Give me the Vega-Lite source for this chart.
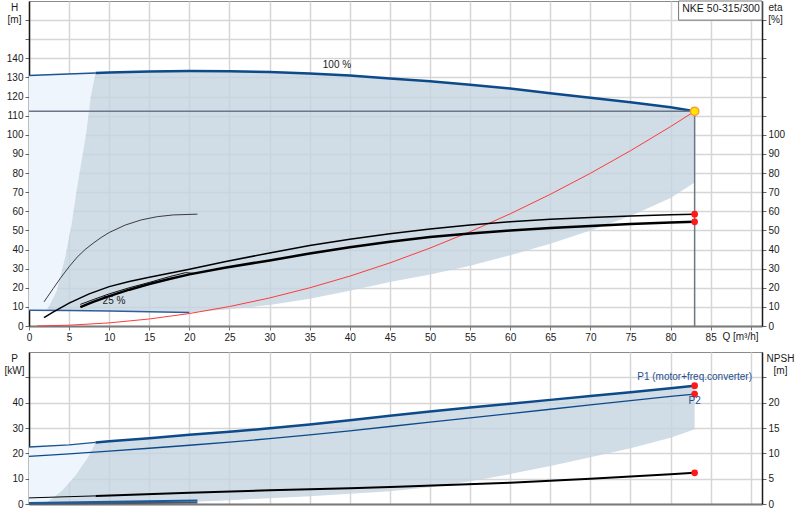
{
  "$schema": "https://vega.github.io/schema/vega-lite/v6.json",
  "background": "white",
  "padding": {"left": 3, "top": 0, "right": 0, "bottom": 0},
  "bounds": "flush",
  "spacing": 26,
  "config": {
    "font": "Liberation Sans",
    "view": {"stroke": "#8a8a8a", "strokeWidth": 1},
    "axis": {
      "labelFont": "Liberation Sans", "labelFontSize": 10, "labelColor": "#1a1a1a",
      "titleFont": "Liberation Sans", "titleFontSize": 10, "titleFontWeight": "normal", "titleColor": "#1a1a1a",
      "gridColor": "#d6d6d6", "gridWidth": 1.5, "tickColor": "#666666", "tickSize": 4,
      "domainColor": "#1a1a1a", "domainWidth": 1.5, "labelPadding": 2, "labelFlush": false, "labelOverlap": false
    }
  },
  "datasets": {
    "top100a": [{"q": 0, "h": 131}, {"q": 4, "h": 131.7}, {"q": 8.3, "h": 132.3}],
    "top100b": [
      {"q": 8.3, "h": 132.3}, {"q": 10, "h": 132.6}, {"q": 15, "h": 133.1}, {"q": 20, "h": 133.4},
      {"q": 25, "h": 133.3}, {"q": 30, "h": 132.9}, {"q": 35, "h": 132.1}, {"q": 40, "h": 131},
      {"q": 45, "h": 129.5}, {"q": 50, "h": 128}, {"q": 55, "h": 126.2}, {"q": 60, "h": 124.2},
      {"q": 65, "h": 121.8}, {"q": 70, "h": 119.4}, {"q": 75, "h": 117}, {"q": 80, "h": 114.4},
      {"q": 83, "h": 112.3}
    ],
    "lightTop": [
      {"q": 0, "h": 131, "h2": 8.3}, {"q": 2.2, "h": 131.6, "h2": 8.25}, {"q": 2.7, "h": 131.65, "h2": 12},
      {"q": 3.45, "h": 131.7, "h2": 18.3}, {"q": 4.5, "h": 131.75, "h2": 35.8}, {"q": 5.3, "h": 131.85, "h2": 53},
      {"q": 5.9, "h": 131.95, "h2": 70}, {"q": 6.5, "h": 132.05, "h2": 85}, {"q": 7.1, "h": 132.1, "h2": 100},
      {"q": 7.7, "h": 132.2, "h2": 120}, {"q": 8.3, "h": 132.3, "h2": 132.3}
    ],
    "darkTop": [
      {"q": 2.2, "h": 8.25, "h2": 8.25}, {"q": 2.7, "h": 12, "h2": 8.2}, {"q": 3.45, "h": 18.3, "h2": 8.2},
      {"q": 4.5, "h": 35.8, "h2": 8.1}, {"q": 5.3, "h": 53, "h2": 8.1}, {"q": 5.9, "h": 70, "h2": 8.1},
      {"q": 6.5, "h": 85, "h2": 8.0}, {"q": 7.1, "h": 100, "h2": 8.0}, {"q": 7.7, "h": 120, "h2": 8.0},
      {"q": 8.3, "h": 132.3, "h2": 7.9}, {"q": 10, "h": 132.6, "h2": 7.8}, {"q": 15, "h": 133.1, "h2": 7.4},
      {"q": 20, "h": 133.4, "h2": 7.0}, {"q": 25, "h": 133.3, "h2": 8.8}, {"q": 30, "h": 132.9, "h2": 11},
      {"q": 35, "h": 132.1, "h2": 14.3}, {"q": 40, "h": 131, "h2": 18.5}, {"q": 45, "h": 129.5, "h2": 23},
      {"q": 50, "h": 128, "h2": 27}, {"q": 55, "h": 126.2, "h2": 31.5}, {"q": 60, "h": 124.2, "h2": 37},
      {"q": 65, "h": 121.8, "h2": 43}, {"q": 70, "h": 119.4, "h2": 50}, {"q": 75, "h": 117, "h2": 57.5},
      {"q": 80, "h": 114.4, "h2": 67}, {"q": 83, "h": 112.3, "h2": 75}
    ],
    "line25": [{"q": 0, "h": 8.3}, {"q": 5, "h": 8.1}, {"q": 10, "h": 7.8}, {"q": 15, "h": 7.4}, {"q": 20, "h": 7.0}],
    "duty": [{"q": 0, "q2": 83, "h": 112.3, "h2": 112.3}, {"q": 83, "q2": 83, "h": 0, "h2": 112.3}],
    "system": [
      {"q": 1, "h": 0.02}, {"q": 5, "h": 0.41}, {"q": 10, "h": 1.63}, {"q": 15, "h": 3.67}, {"q": 20, "h": 6.52},
      {"q": 25, "h": 10.19}, {"q": 30, "h": 14.67}, {"q": 35, "h": 19.97}, {"q": 40, "h": 26.08},
      {"q": 45, "h": 33.01}, {"q": 50, "h": 40.75}, {"q": 55, "h": 49.31}, {"q": 60, "h": 58.68},
      {"q": 65, "h": 68.87}, {"q": 70, "h": 79.87}, {"q": 75, "h": 91.69}, {"q": 80, "h": 104.3}, {"q": 83, "h": 112.3}
    ],
    "labelsTop": [{"q": 38.4, "h": 136.6, "label": "100 %"}, {"q": 10.6, "h": 13.3, "label": "25 %"}],
    "box": [{"q": 81, "q2": 91.4, "h": 160, "h2": 170}],
    "boxText": [{"q": 86.3, "h": 166, "label": "NKE 50-315/300"}],
    "dutyPoint": [{"q": 83, "h": 112.3}],
    "etaU": [
      {"q": 1.87, "eta": 4.4}, {"q": 3, "eta": 7.3}, {"q": 5, "eta": 12}, {"q": 7.5, "eta": 16.8},
      {"q": 10, "eta": 20.6}, {"q": 12.5, "eta": 23.3}, {"q": 15, "eta": 25.5}, {"q": 17.5, "eta": 27.6},
      {"q": 20, "eta": 29.7}, {"q": 24.4, "eta": 33.6}, {"q": 30, "eta": 38.2}, {"q": 35, "eta": 42.1},
      {"q": 40, "eta": 45.4}, {"q": 45, "eta": 48.3}, {"q": 50, "eta": 50.7}, {"q": 55, "eta": 52.8},
      {"q": 60, "eta": 54.5}, {"q": 65, "eta": 55.8}, {"q": 70, "eta": 56.8}, {"q": 75, "eta": 57.6},
      {"q": 80, "eta": 58.2}, {"q": 83, "eta": 58.5}
    ],
    "etaL": [
      {"q": 6.4, "eta": 9.9}, {"q": 8, "eta": 12.6}, {"q": 10, "eta": 15.6}, {"q": 12.5, "eta": 19},
      {"q": 15, "eta": 22}, {"q": 17.5, "eta": 24.6}, {"q": 20, "eta": 27}, {"q": 24.4, "eta": 30.5},
      {"q": 30, "eta": 34.3}, {"q": 35, "eta": 37.9}, {"q": 40, "eta": 41.2}, {"q": 45, "eta": 44.1},
      {"q": 50, "eta": 46.5}, {"q": 55, "eta": 48.4}, {"q": 60, "eta": 49.9}, {"q": 65, "eta": 51.2},
      {"q": 70, "eta": 52.3}, {"q": 75, "eta": 53.3}, {"q": 80, "eta": 54.1}, {"q": 83, "eta": 54.5}
    ],
    "etaS": [
      {"q": 6.4, "eta": 11.3}, {"q": 8, "eta": 13.8}, {"q": 10, "eta": 16.8}, {"q": 12.5, "eta": 20},
      {"q": 15, "eta": 22.8}, {"q": 17.5, "eta": 25.8}, {"q": 19.5, "eta": 27.9}, {"q": 21, "eta": 27.4}
    ],
    "etaT": [
      {"q": 1.87, "eta": 12.6}, {"q": 3, "eta": 19.5}, {"q": 4, "eta": 25.5}, {"q": 5, "eta": 31},
      {"q": 6, "eta": 36}, {"q": 7, "eta": 40}, {"q": 8, "eta": 43.3}, {"q": 9, "eta": 46.3},
      {"q": 10, "eta": 48.9}, {"q": 12, "eta": 52.8}, {"q": 14, "eta": 55.5}, {"q": 16, "eta": 57.2},
      {"q": 18, "eta": 58.1}, {"q": 21, "eta": 58.5}
    ],
    "etaDots": [{"q": 83, "eta": 58.5}, {"q": 83, "eta": 54.5}],
    "lightBot": [
      {"q": 0, "p": 22.5, "p2": 0.3}, {"q": 2.0, "p": 22.8, "p2": 0.3}, {"q": 2.5, "p": 22.9, "p2": 1.3},
      {"q": 3.2, "p": 23.0, "p2": 3}, {"q": 4.1, "p": 23.2, "p2": 5.2}, {"q": 5, "p": 23.3, "p2": 8.3},
      {"q": 5.9, "p": 23.6, "p2": 11.7}, {"q": 6.6, "p": 23.8, "p2": 15}, {"q": 7.3, "p": 24.0, "p2": 18.2},
      {"q": 7.8, "p": 24.15, "p2": 21}, {"q": 8.3, "p": 24.3, "p2": 24.3}
    ],
    "darkBot": [
      {"q": 2.0, "p": 0.3, "p2": 0.3}, {"q": 2.5, "p": 1.3, "p2": 0.3}, {"q": 3.2, "p": 3, "p2": 0.3},
      {"q": 4.1, "p": 5.2, "p2": 0.3}, {"q": 5, "p": 8.3, "p2": 0.3}, {"q": 5.9, "p": 11.7, "p2": 0.3},
      {"q": 6.6, "p": 15, "p2": 0.3}, {"q": 7.3, "p": 18.2, "p2": 0.3}, {"q": 7.8, "p": 21, "p2": 0.3},
      {"q": 8.3, "p": 24.3, "p2": 0.3}, {"q": 10, "p": 24.8, "p2": 0.3}, {"q": 15, "p": 26, "p2": 0.4},
      {"q": 20, "p": 27.3, "p2": 0.8}, {"q": 25, "p": 28.5, "p2": 1.5}, {"q": 30, "p": 29.9, "p2": 2.3},
      {"q": 35, "p": 31.4, "p2": 3.1}, {"q": 40, "p": 33.1, "p2": 4}, {"q": 45, "p": 34.8, "p2": 5},
      {"q": 50, "p": 36.5, "p2": 6.6}, {"q": 55, "p": 38.1, "p2": 9}, {"q": 60, "p": 39.6, "p2": 11.8},
      {"q": 65, "p": 41.1, "p2": 15}, {"q": 70, "p": 42.6, "p2": 18.5}, {"q": 75, "p": 44.1, "p2": 22},
      {"q": 80, "p": 45.7, "p2": 26.2}, {"q": 83, "p": 46.7, "p2": 29.5}
    ],
    "p1a": [{"q": 0, "p": 22.5}, {"q": 5, "p": 23.3}, {"q": 8.3, "p": 24.3}],
    "p1b": [
      {"q": 8.3, "p": 24.3}, {"q": 10, "p": 24.8}, {"q": 15, "p": 26}, {"q": 20, "p": 27.3}, {"q": 25, "p": 28.5},
      {"q": 30, "p": 29.9}, {"q": 35, "p": 31.4}, {"q": 40, "p": 33.1}, {"q": 45, "p": 34.8}, {"q": 50, "p": 36.5},
      {"q": 55, "p": 38.1}, {"q": 60, "p": 39.6}, {"q": 65, "p": 41.1}, {"q": 70, "p": 42.6}, {"q": 75, "p": 44.1},
      {"q": 80, "p": 45.7}, {"q": 83, "p": 46.7}
    ],
    "p2": [
      {"q": 0, "p": 18.8}, {"q": 5, "p": 19.8}, {"q": 10, "p": 20.9}, {"q": 15, "p": 22}, {"q": 20, "p": 23.2},
      {"q": 25, "p": 24.4}, {"q": 30, "p": 25.8}, {"q": 35, "p": 27.3}, {"q": 40, "p": 28.9}, {"q": 45, "p": 30.6},
      {"q": 50, "p": 32.3}, {"q": 55, "p": 34}, {"q": 60, "p": 35.7}, {"q": 65, "p": 37.4}, {"q": 70, "p": 39.1},
      {"q": 75, "p": 40.8}, {"q": 80, "p": 42.5}, {"q": 83, "p": 43.4}
    ],
    "p25blue": [{"q": 0, "p": 0.35}, {"q": 21, "p": 1.4}],
    "p25gray": [{"q": 0, "p": 0.1}, {"q": 21, "p": 0.6}],
    "pDots": [{"q": 83, "p": 46.7}, {"q": 83, "p": 43.4}],
    "pLabels": [{"q": 83, "p": 50.2, "label": "P1 (motor+freq.converter)"}, {"q": 83, "p": 40.6, "label": "P2"}],
    "npshA": [{"q": 0, "n": 1.2}, {"q": 4, "n": 1.4}, {"q": 8.3, "n": 1.6}],
    "npshB": [
      {"q": 8.3, "n": 1.6}, {"q": 20, "n": 2.2}, {"q": 30, "n": 2.7}, {"q": 40, "n": 3.1}, {"q": 46, "n": 3.4},
      {"q": 60, "n": 4.2}, {"q": 70, "n": 5}, {"q": 80, "n": 5.85}, {"q": 83, "n": 6.15}
    ],
    "npshDot": [{"q": 83, "n": 6.15}]
  },
  "vconcat": [
    {
      "width": 733,
      "height": 325,
      "encoding": {
        "x": {
          "field": "q", "type": "quantitative",
          "scale": {"domain": [0, 91.4], "nice": false, "zero": false},
          "axis": {
            "values": [0, 5, 10, 15, 20, 25, 30, 35, 40, 45, 50, 55, 60, 65, 70, 75, 80, 85, 90],
            "labelExpr": "datum.value > 85 ? '' : datum.label",
            "grid": true, "domainColor": "#7a7a7a", "domainWidth": 2, "tickColor": "#7a7a7a",
            "title": "Q [m³/h]", "titleX": 711, "titleY": 10, "titleBaseline": "middle", "titleAlign": "center"
          }
        }
      },
      "layer": [
        {
          "encoding": {
            "y": {
              "field": "h", "type": "quantitative",
              "scale": {"domain": [0, 170], "nice": false, "zero": false},
              "axis": {
                "orient": "left", "grid": true,
                "values": [0, 10, 20, 30, 40, 50, 60, 70, 80, 90, 100, 110, 120, 130, 140, 150, 160],
                "labelExpr": "datum.value > 140 ? '' : datum.label",
                "title": ["H", "[m]"], "titleAngle": 0, "titleAlign": "center", "titleBaseline": "top",
                "titleX": -15, "titleY": 1, "titleLineHeight": 12
              }
            }
          },
          "layer": [
            {"data": {"name": "lightTop"}, "mark": {"type": "area", "color": "#eef5fc"}, "encoding": {"y2": {"field": "h2"}}},
            {"data": {"name": "darkTop"}, "mark": {"type": "area", "color": "#c4d3e0", "opacity": 0.8}, "encoding": {"y2": {"field": "h2"}}},
            {"data": {"name": "line25"}, "mark": {"type": "line", "color": "#2f5f98", "strokeWidth": 1.5}, "encoding": {}},
            {"data": {"name": "top100a"}, "mark": {"type": "line", "color": "#1d558f", "strokeWidth": 1.5}, "encoding": {}},
            {"data": {"name": "top100b"}, "mark": {"type": "line", "color": "#0d4a8a", "strokeWidth": 2.5}, "encoding": {}},
            {"data": {"name": "duty"}, "mark": {"type": "rule", "color": "#6b7786", "strokeWidth": 1.5}, "encoding": {"x2": {"field": "q2"}, "y2": {"field": "h2"}}},
            {"data": {"name": "system"}, "mark": {"type": "line", "color": "#ff3b3b", "strokeWidth": 1}, "encoding": {}},
            {"data": {"name": "labelsTop"}, "mark": {"type": "text", "fontSize": 10, "color": "#1a1a1a", "baseline": "middle"}, "encoding": {"text": {"field": "label"}}},
            {"data": {"name": "box"}, "mark": {"type": "rect", "fill": "white", "stroke": "#777777", "strokeWidth": 1}, "encoding": {"x2": {"field": "q2"}, "y2": {"field": "h2"}}},
            {"data": {"name": "boxText"}, "mark": {"type": "text", "fontSize": 10.5, "color": "#1a1a1a", "baseline": "middle"}, "encoding": {"text": {"field": "label"}}}
          ]
        },
        {
          "encoding": {
            "y": {
              "field": "eta", "type": "quantitative",
              "scale": {"domain": [0, 170], "nice": false, "zero": false},
              "axis": {
                "orient": "right", "grid": false,
                "values": [0, 10, 20, 30, 40, 50, 60, 70, 80, 90, 100, 110, 120, 130, 140, 150, 160],
                "labelExpr": "datum.value > 100 ? '' : datum.label",
                "title": ["eta", "[%]"], "titleAngle": 0, "titleAlign": "center", "titleBaseline": "top",
                "titleX": 13, "titleY": 1, "titleLineHeight": 12
              }
            }
          },
          "layer": [
            {"data": {"name": "etaT"}, "mark": {"type": "line", "color": "#2a2a2a", "strokeWidth": 0.9}, "encoding": {}},
            {"data": {"name": "etaS"}, "mark": {"type": "line", "color": "#111111", "strokeWidth": 1}, "encoding": {}},
            {"data": {"name": "etaU"}, "mark": {"type": "line", "color": "#000000", "strokeWidth": 1.5}, "encoding": {}},
            {"data": {"name": "etaL"}, "mark": {"type": "line", "color": "#000000", "strokeWidth": 2.5}, "encoding": {}},
            {"data": {"name": "etaDots"}, "mark": {"type": "point", "filled": true, "color": "#ff1a1a", "size": 45, "opacity": 1}, "encoding": {}}
          ]
        },
        {
          "data": {"name": "dutyPoint"},
          "mark": {"type": "point", "filled": true, "fill": "#ffe600", "stroke": "#ff9a33", "strokeWidth": 1.5, "size": 70, "opacity": 1},
          "encoding": {"y": {"field": "h", "type": "quantitative", "scale": {"domain": [0, 170], "nice": false, "zero": false}, "axis": null}}
        }
      ],
      "resolve": {"scale": {"y": "independent"}}
    },
    {
      "width": 733,
      "height": 152,
      "encoding": {
        "x": {
          "field": "q", "type": "quantitative",
          "scale": {"domain": [0, 91.4], "nice": false, "zero": false},
          "axis": {
            "values": [0, 5, 10, 15, 20, 25, 30, 35, 40, 45, 50, 55, 60, 65, 70, 75, 80, 85, 90],
            "labels": false, "ticks": false, "grid": true, "domainColor": "#7a7a7a", "domainWidth": 2, "title": null
          }
        }
      },
      "layer": [
        {
          "encoding": {
            "y": {
              "field": "p", "type": "quantitative",
              "scale": {"domain": [0, 60], "nice": false, "zero": false},
              "axis": {
                "orient": "left", "grid": true,
                "values": [0, 10, 20, 30, 40, 50],
                "labelExpr": "datum.value > 40 ? '' : datum.label",
                "title": ["P", "[kW]"], "titleAngle": 0, "titleAlign": "center", "titleBaseline": "top",
                "titleX": -15, "titleY": 1, "titleLineHeight": 12
              }
            }
          },
          "layer": [
            {"data": {"name": "lightBot"}, "mark": {"type": "area", "color": "#eef5fc"}, "encoding": {"y2": {"field": "p2"}}},
            {"data": {"name": "darkBot"}, "mark": {"type": "area", "color": "#c4d3e0", "opacity": 0.8}, "encoding": {"y2": {"field": "p2"}}},
            {"data": {"name": "p25gray"}, "mark": {"type": "line", "color": "#4a5666", "strokeWidth": 2}, "encoding": {}},
            {"data": {"name": "p25blue"}, "mark": {"type": "line", "color": "#1f5a99", "strokeWidth": 2}, "encoding": {}},
            {"data": {"name": "p2"}, "mark": {"type": "line", "color": "#0d4a8a", "strokeWidth": 1.3}, "encoding": {}},
            {"data": {"name": "p1a"}, "mark": {"type": "line", "color": "#1d558f", "strokeWidth": 1.3}, "encoding": {}},
            {"data": {"name": "p1b"}, "mark": {"type": "line", "color": "#0d4a8a", "strokeWidth": 2.5}, "encoding": {}},
            {"data": {"name": "pDots"}, "mark": {"type": "point", "filled": true, "color": "#ff1a1a", "size": 45, "opacity": 1}, "encoding": {}},
            {"data": {"name": "pLabels"}, "mark": {"type": "text", "fontSize": 10, "color": "#1f4f8f", "baseline": "middle"}, "encoding": {"text": {"field": "label"}}}
          ]
        },
        {
          "encoding": {
            "y": {
              "field": "n", "type": "quantitative",
              "scale": {"domain": [0, 30], "nice": false, "zero": false},
              "axis": {
                "orient": "right", "grid": false,
                "values": [0, 5, 10, 15, 20, 25],
                "labelExpr": "datum.value > 20 ? '' : datum.label",
                "title": ["NPSH", "[m]"], "titleAngle": 0, "titleAlign": "center", "titleBaseline": "top",
                "titleX": 18, "titleY": 1, "titleLineHeight": 12
              }
            }
          },
          "layer": [
            {"data": {"name": "npshA"}, "mark": {"type": "line", "color": "#000000", "strokeWidth": 1}, "encoding": {}},
            {"data": {"name": "npshB"}, "mark": {"type": "line", "color": "#000000", "strokeWidth": 2}, "encoding": {}},
            {"data": {"name": "npshDot"}, "mark": {"type": "point", "filled": true, "color": "#ff1a1a", "size": 45, "opacity": 1}, "encoding": {}}
          ]
        }
      ],
      "resolve": {"scale": {"y": "independent"}}
    }
  ]
}
